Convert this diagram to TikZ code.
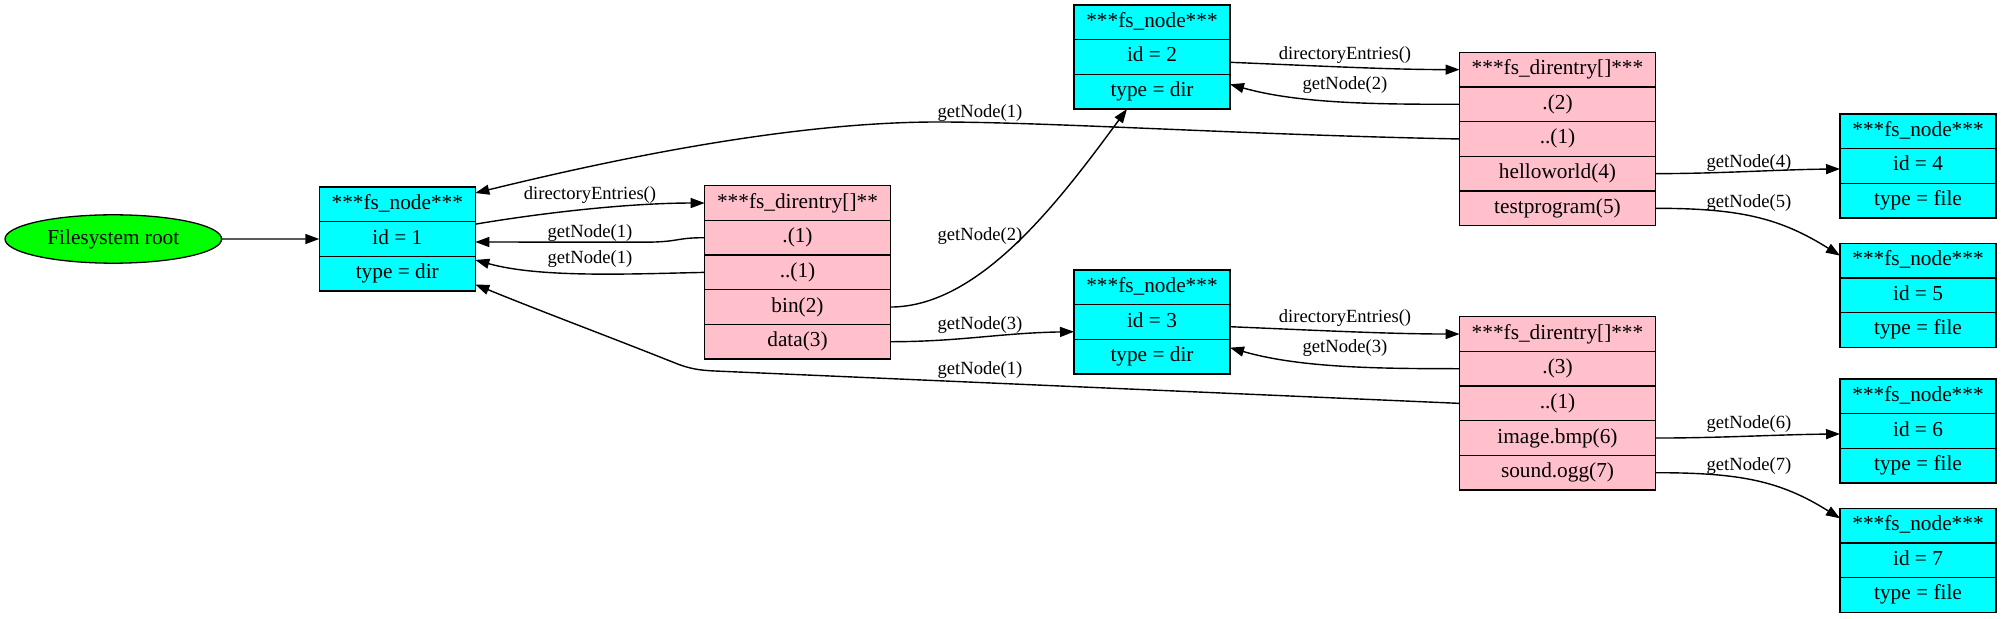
\documentclass[tikz,border=0pt]{standalone}
\usepackage{fontspec}
\setmainfont{Liberation Serif}
\usetikzlibrary{arrows.meta,calc,shapes.geometric}
\definecolor{fscyan}{RGB}{0,255,255}
\definecolor{fspink}{RGB}{255,192,203}
\definecolor{fsgreen}{RGB}{0,255,0}
\newcommand\fsrecfont{\fontsize{10.65pt}{12pt}\selectfont}
\newcommand\fslabfont{\fontsize{9.3pt}{11pt}\selectfont}
\tikzset{
 recrow/.style={draw=black, line width=0.65pt, inner sep=0pt, outer sep=0pt, anchor=north,
   minimum height=17.335pt, text height=7.3pt, text depth=2.3pt, font=\fsrecfont},
 fsnode/.style={recrow, fill=fscyan, minimum width=78pt},
 derow/.style={recrow, fill=fspink, minimum width=92.85pt},
 dewide/.style={recrow, fill=fspink, minimum width=98pt},
 lab/.style={font=\fslabfont, inner sep=0pt},
 conn/.style={draw=black, line width=0.7pt, -{Triangle[length=7pt,width=5pt]}},
}
\begin{document}
\begin{tikzpicture}[x=0.5pt,y=-0.5pt]
\fill[white] (0,0) rectangle (2001,619);
\useasboundingbox (0,0) rectangle (2001,619);

% root
\node[ellipse, draw=black, fill=fsgreen, line width=0.65pt, inner sep=0pt, outer sep=0pt,
  minimum width=108.3pt, minimum height=24.2pt, font=\fsrecfont] (root) at (113.3,239) {Filesystem root};

% fs_node 1
\node[fsnode] (n1h) at (397.3,187) {***fs\_node***};
\node[fsnode] (n1a) at (n1h.south) {id = 1};
\node[fsnode] (n1b) at (n1a.south) {type = dir};

% direntry 1
\node[derow] (de1h) at (797.5,185.7) {***fs\_direntry[]**};
\node[derow] (de1a) at (de1h.south) {.(1)};
\node[derow] (de1b) at (de1a.south) {..(1)};
\node[derow] (de1c) at (de1b.south) {bin(2)};
\node[derow] (de1d) at (de1c.south) {data(3)};

% fs_node 2
\node[fsnode] (n2h) at (1152,5) {***fs\_node***};
\node[fsnode] (n2a) at (n2h.south) {id = 2};
\node[fsnode] (n2b) at (n2a.south) {type = dir};

% direntry 2
\node[dewide] (de2h) at (1557.5,52.3) {***fs\_direntry[]***};
\node[dewide] (de2a) at (de2h.south) {.(2)};
\node[dewide] (de2b) at (de2a.south) {..(1)};
\node[dewide] (de2c) at (de2b.south) {helloworld(4)};
\node[dewide] (de2d) at (de2c.south) {testprogram(5)};

% fs_node 3
\node[fsnode] (n3h) at (1152,270) {***fs\_node***};
\node[fsnode] (n3a) at (n3h.south) {id = 3};
\node[fsnode] (n3b) at (n3a.south) {type = dir};

% direntry 3
\node[dewide] (de3h) at (1557.5,316.7) {***fs\_direntry[]***};
\node[dewide] (de3a) at (de3h.south) {.(3)};
\node[dewide] (de3b) at (de3a.south) {..(1)};
\node[dewide] (de3c) at (de3b.south) {image.bmp(6)};
\node[dewide] (de3d) at (de3c.south) {sound.ogg(7)};

% files
\node[fsnode] (n4h) at (1918,114) {***fs\_node***};
\node[fsnode] (n4a) at (n4h.south) {id = 4};
\node[fsnode] (n4b) at (n4a.south) {type = file};
\node[fsnode] (n5h) at (1918,243.3) {***fs\_node***};
\node[fsnode] (n5a) at (n5h.south) {id = 5};
\node[fsnode] (n5b) at (n5a.south) {type = file};
\node[fsnode] (n6h) at (1918,379) {***fs\_node***};
\node[fsnode] (n6a) at (n6h.south) {id = 6};
\node[fsnode] (n6b) at (n6a.south) {type = file};
\node[fsnode] (n7h) at (1918,508.3) {***fs\_node***};
\node[fsnode] (n7a) at (n7h.south) {id = 7};
\node[fsnode] (n7b) at (n7a.south) {type = file};

% edges
\draw[conn] (root.east) -- (n1a.west);
\draw[conn] ($(n1a.north east)+(0,2.5)$) .. controls (560,210) and (640,203) .. (de1h.west);
\draw[conn] (de1a.west) .. controls (675,237.7) and (680,242) .. (645,242.2) -- ($(n1a.east)+(0,3)$);
\draw[conn] (de1b.west) .. controls (630,274) and (540,278) .. ($(n1b.east)+(0,-13.7)$);
\draw[conn] (de2b.west) .. controls (1250,135) and (1050,122) .. (938,122)
   .. controls (780,122) and (590,165) .. ($(n1h.east)+(0,-11.3)$);
\draw[conn] (de3b.west) -- (715,371) .. controls (700,370.3) and (690,369) .. (675,363)
   .. controls (610,337) and (540,311) .. ($(n1b.east)+(0,10.8)$);
\draw[conn] (de1c.east) .. controls (980,307) and (1060,200) .. ($(n2b.south)+(-25,0)$);
\draw[conn] (de1d.east) .. controls (960,341.7) and (1000,333) .. ($(n3a.west)+(0,9.7)$);
\draw[conn] ($(n2a.east)+(0,5.3)$) .. controls (1320,66) and (1390,69.6) .. (de2h.west);
\draw[conn] (de2a.west) .. controls (1380,104.3) and (1300,104) .. ($(n2b.east)+(0,-7.4)$);
\draw[conn] ($(n3a.east)+(0,4.7)$) .. controls (1320,330.5) and (1390,334) .. (de3h.west);
\draw[conn] (de3a.west) .. controls (1380,368.7) and (1300,368) .. ($(n3b.east)+(0,-9)$);
\draw[conn] (de2c.east) .. controls +(65,0) and +(-60,0.5) .. ($(n4a.west)+(0,3)$);
\draw[conn] (de2d.east) .. controls +(84.5,0) and +(-60,-37.7) .. ($(n5h.west)+(0,-5)$);
\draw[conn] (de3c.east) .. controls +(65,0) and +(-60,0.5) .. ($(n6a.west)+(0,3)$);
\draw[conn] (de3d.east) .. controls +(84.5,0) and +(-60,-37.7) .. ($(n7h.west)+(0,-7.3)$);

% labels
\node[lab] (l1) at (590,195) {directoryEntries()};
\node[lab] (l2) at (590,233) {getNode(1)};
\node[lab] (l3) at (590,259) {getNode(1)};
\node[lab] (l4) at (980,113) {getNode(1)};
\node[lab] (l5) at (980,370) {getNode(1)};
\node[lab] (l6) at (980,236) {getNode(2)};
\node[lab] (l7) at (980,325) {getNode(3)};
\node[lab] (l8) at (1345,55) {directoryEntries()};
\node[lab] (l9) at (1345,85) {getNode(2)};
\node[lab] (l10) at (1345,318) {directoryEntries()};
\node[lab] (l11) at (1345,348) {getNode(3)};
\node[lab] (l12) at (1749,163) {getNode(4)};
\node[lab] (l13) at (1749,203) {getNode(5)};
\node[lab] (l14) at (1749,424) {getNode(6)};
\node[lab] (l15) at (1749,466) {getNode(7)};
\end{tikzpicture}
\end{document}
